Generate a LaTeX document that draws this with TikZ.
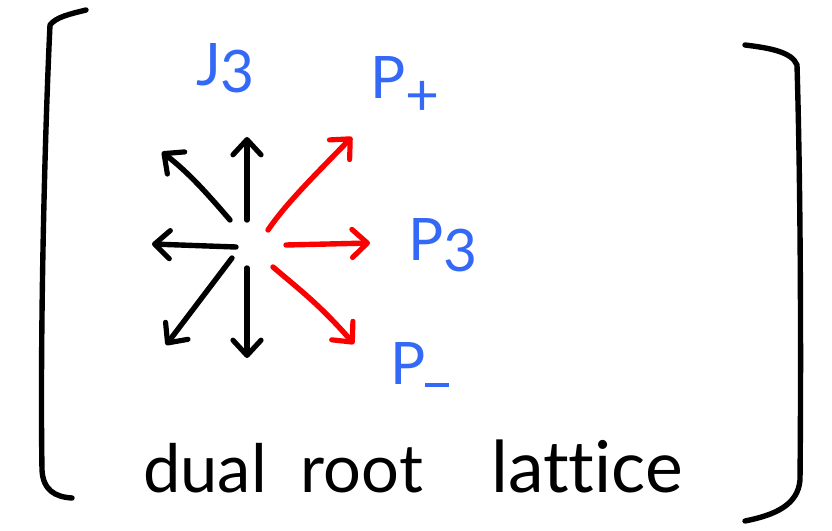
\documentclass[tikz,border=0pt]{standalone}
\usepackage{fontspec}
\setmainfont[Ligatures=NoCommon]{Lato}
\usetikzlibrary{arrows.meta}
\definecolor{inkblue}{RGB}{52,104,246}
\definecolor{inkred}{RGB}{250,0,0}
\begin{document}
\begin{tikzpicture}[x=0.03cm,y=-0.03cm,
  ink/.style={line width=4.6pt,line cap=round,line join=round},
  arr/.style={ink,-{Straight Barb[length=13pt,width=24pt,line width=4.4pt,round]}},
  lab/.style={text=inkblue,font=\fontsize{50}{56}\selectfont,inner sep=0pt,anchor=base west},
  word/.style={font=\fontsize{57}{64}\selectfont,inner sep=0pt,anchor=base}]
\useasboundingbox (0,0) rectangle (832,531);
% brackets
\draw[ink] (86,10) .. controls (70,14) and (56,17) .. (50,25)
  .. controls (44,150) and (40,350) .. (42,470)
  .. controls (43,490) and (55,497) .. (72,498);
\draw[ink] (745,45) .. controls (770,48) and (792,52) .. (797,65)
  .. controls (801,200) and (801,380) .. (800,480)
  .. controls (798,505) and (775,515) .. (745,521);
% arrow end points
\coordinate (sU) at (247,220); \coordinate (eU) at (247,137);
\coordinate (sUL) at (230,220); \coordinate (eUL) at (162,152);
\coordinate (sL) at (236,247); \coordinate (eL) at (152,244);
\coordinate (sDL) at (232,258); \coordinate (eDL) at (166,345);
\coordinate (sD) at (247,268); \coordinate (eD) at (247,358);
\coordinate (sUR) at (268,230); \coordinate (eUR) at (352,137);
\coordinate (sR) at (286,245); \coordinate (eR) at (370,243);
\coordinate (sDR) at (273,267); \coordinate (eDR) at (354,344);
\draw[arr] (sU) -- (eU);
\draw[arr] (sUL) .. controls (200,185) and (185,170) .. (eUL);
\draw[arr] (sL) -- (eL);
\draw[arr] (sDL) -- (eDL);
\draw[arr] (sD) -- (eD);
\draw[arr,inkred] (sUR) .. controls (285,205) and (310,180) .. (eUR);
\draw[arr,inkred] (sR) -- (eR);
\draw[arr,inkred] (sDR) .. controls (300,290) and (320,305) .. (eDR);
% labels
\node[lab] (J3) at (196,85) {J\raisebox{-0.12em}{3}};
\node[lab] (Pp) at (370,98) {P\raisebox{-0.3em}{+}};
\node[lab] (P3) at (408,260) {P\raisebox{-0.2em}{3}};
\node[lab] (Pm) at (390,384) {P\raisebox{-0.05em}{\rule{0.4em}{0.06em}}};
% caption
\node[word] (w1) at (205,492) {dual};
\node[word] (w2) at (362,492) {root};
\node[word,font=\fontsize{61}{68}\selectfont] (w3) at (587,492) {lattice};
\end{tikzpicture}
\end{document}
